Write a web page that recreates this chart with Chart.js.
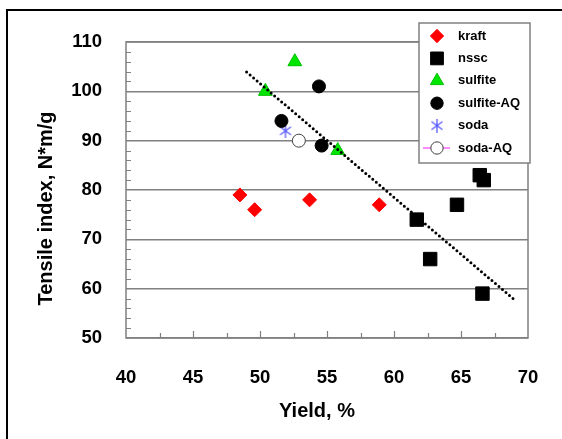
<!DOCTYPE html>
<html>
<head>
<meta charset="utf-8">
<script src="https://cdn.jsdelivr.net/npm/chart.js@4.4.0/dist/chart.umd.min.js"></script>
<style>
html, body { margin: 0; padding: 0; background: #fff; overflow: hidden; }
#wrap { position: relative; width: 562px; height: 439px; }
#marco { position: absolute; left: 6px; top: 9px; width: 700px; height: 600px; border-left: 2px solid #000; border-top: 2px solid #000; }
#grafico { position: absolute; left: 0; top: 0; }
</style>
</head>
<body>
<div id="wrap"><div id="marco"></div><canvas id="grafico" width="562" height="439"></canvas></div>
<script>
// datos
const kraftX = [48.5, 49.6, 53.7, 58.9];
const kraftY = [79, 76, 78, 77];
const nsscX = [61.7, 62.7, 64.7, 66.4, 66.7, 66.6];
const nsscY = [74, 66, 77, 83, 82, 59];
const sulfiteX = [52.6, 50.4, 55.8];
const sulfiteY = [106, 100, 88];
const sulfiteAqX = [54.4, 51.6, 54.6];
const sulfiteAqY = [101, 94, 89];
const sodaX = [51.9];
const sodaY = [92];
const sodaAqX = [52.9];
const sodaAqY = [90];
const tendenciaX = [49.0, 69.1];
const tendenciaY = [103.9, 57.5];
const etiquetas = ["kraft", "nssc", "sulfite", "sulfite-AQ", "soda", "soda-AQ"];
const xTicks = [40, 45, 50, 55, 60, 65, 70];
const yTicks = [50, 60, 70, 80, 90, 100, 110];
const tituloX = "Yield, %";
const tituloY = "Tensile index, N*m/g";

const puntos = (xs, ys) => xs.map((x, i) => ({ x: x, y: ys[i] }));

// marcador tipo asterisco para soda
const estrella = document.createElement("canvas");
estrella.width = 14;
estrella.height = 14;
const ec = estrella.getContext("2d");
ec.strokeStyle = "#5a5aff";
ec.lineWidth = 1.3;
ec.beginPath();
ec.moveTo(7, 0); ec.lineTo(7, 14);
ec.moveTo(1.5, 3); ec.lineTo(12.5, 11);
ec.moveTo(12.5, 3); ec.lineTo(1.5, 11);
ec.stroke();

const fuente = "'Liberation Sans', Arial, sans-serif";

const series = [
  { label: etiquetas[0], data: puntos(kraftX, kraftY), pointStyle: "rectRot", pointRadius: 7, backgroundColor: "#ff0000", borderColor: "#ff0000", borderWidth: 1 },
  { label: etiquetas[1], data: puntos(nsscX, nsscY), pointStyle: "rect", pointRadius: 9.5, backgroundColor: "#000", borderColor: "#000", borderWidth: 1 },
  { label: etiquetas[2], data: puntos(sulfiteX, sulfiteY), pointStyle: "triangle", pointRadius: 8, backgroundColor: "#00e600", borderColor: "#00c000", borderWidth: 1 },
  { label: etiquetas[3], data: puntos(sulfiteAqX, sulfiteAqY), pointStyle: "circle", pointRadius: 6.5, backgroundColor: "#000", borderColor: "#000", borderWidth: 1 },
  { label: etiquetas[4], data: puntos(sodaX, sodaY), pointStyle: estrella, pointRadius: 7, backgroundColor: "#5a5aff", borderColor: "#5a5aff", borderWidth: 1 },
  { label: etiquetas[5], data: puntos(sodaAqX, sodaAqY), pointStyle: "circle", pointRadius: 6.5, backgroundColor: "#fff", borderColor: "#404040", borderWidth: 1 }
];

const tendencia = {
  label: "tendencia",
  type: "line",
  data: puntos(tendenciaX, tendenciaY),
  showLine: true,
  pointRadius: 0,
  borderColor: "#000",
  borderWidth: 3,
  borderDash: [0, 4.6],
  borderCapStyle: "round",
  fill: false
};

// marco del area, ticks menores, titulos de ejes y leyenda
const decoracion = {
  id: "decoracion",
  beforeDatasetsDraw(chart) {
    const { ctx, chartArea: a, scales } = chart;
    ctx.save();
    ctx.strokeStyle = "#808080";
    ctx.lineWidth = 1.5;
    ctx.strokeRect(a.left, a.top, a.right - a.left, a.bottom - a.top);
    ctx.lineWidth = 1.2;
    ctx.beginPath();
    for (let v = 52; v < 110; v += 2) {
      if (v % 10 === 0) continue;
      const y = Math.round(scales.y.getPixelForValue(v)) + 0.5;
      ctx.moveTo(a.left, y); ctx.lineTo(a.left + 5, y);
    }
    for (let v = 42.5; v < 70; v += 2.5) {
      const x = Math.round(scales.x.getPixelForValue(v)) + 0.5;
      const largo = v % 5 === 0 ? 7 : 5;
      ctx.moveTo(x, a.bottom); ctx.lineTo(x, a.bottom - largo);
    }
    ctx.stroke();
    ctx.restore();
  },
  afterDraw(chart) {
    const ctx = chart.ctx;
    ctx.save();
    ctx.fillStyle = "#000";
    ctx.font = "bold 20px " + fuente;
    ctx.textAlign = "center";
    ctx.textBaseline = "middle";
    ctx.fillText(tituloX, 317, 411);
    ctx.save();
    ctx.translate(46, 208.5);
    ctx.rotate(-Math.PI / 2);
    ctx.fillText(tituloY, 0, 0);
    ctx.restore();

    ctx.fillStyle = "#fff";
    ctx.fillRect(419, 23, 111, 140);
    ctx.strokeStyle = "#808080";
    ctx.lineWidth = 1.5;
    ctx.strokeRect(419, 23, 111, 140);
    ctx.textAlign = "left";
    series.forEach((s, i) => {
      const y = 36 + i * 22.4;
      if (i === 5) {
        ctx.strokeStyle = "#ff66ff";
        ctx.lineWidth = 1.5;
        ctx.beginPath();
        ctx.moveTo(423, y); ctx.lineTo(450, y);
        ctx.stroke();
      }
      ctx.fillStyle = s.backgroundColor;
      ctx.strokeStyle = s.borderColor;
      ctx.lineWidth = s.borderWidth;
      Chart.helpers.drawPoint(ctx, { pointStyle: s.pointStyle, radius: s.pointRadius * 0.95, rotation: 0, borderWidth: s.borderWidth }, 437, y);
      ctx.fillStyle = "#000";
      ctx.font = "bold 13px " + fuente;
      ctx.fillText(s.label, 458, y);
    });
    ctx.restore();
  }
};

const grafico = document.getElementById("grafico");
const graficoInstance = new Chart(grafico, {
  type: "scatter",
  data: { datasets: [tendencia, ...series] },
  options: {
    responsive: false,
    animation: false,
    devicePixelRatio: 1,
    layout: { padding: { left: 10, top: 42, right: 34, bottom: 11 } },
    plugins: { legend: { display: false }, tooltip: { enabled: false } },
    scales: {
      x: {
        type: "linear",
        min: 40,
        max: 70,
        afterBuildTicks: (s) => { s.ticks = xTicks.map(v => ({ value: v })); },
        afterFit: (s) => { s.height = 90; },
        ticks: { color: "#000", font: { family: fuente, size: 18.5, weight: "bold" }, padding: 21 },
        grid: { display: false },
        border: { display: false }
      },
      y: {
        type: "linear",
        min: 50,
        max: 110,
        afterBuildTicks: (s) => { s.ticks = yTicks.map(v => ({ value: v })); },
        afterFit: (s) => { s.width = 116; },
        ticks: { color: "#000", font: { family: fuente, size: 18.5, weight: "bold" }, padding: 24 },
        grid: { color: "#808080", lineWidth: 1.5, drawTicks: false },
        border: { display: false }
      }
    }
  },
  plugins: [decoracion]
});
</script>
</body>
</html>
